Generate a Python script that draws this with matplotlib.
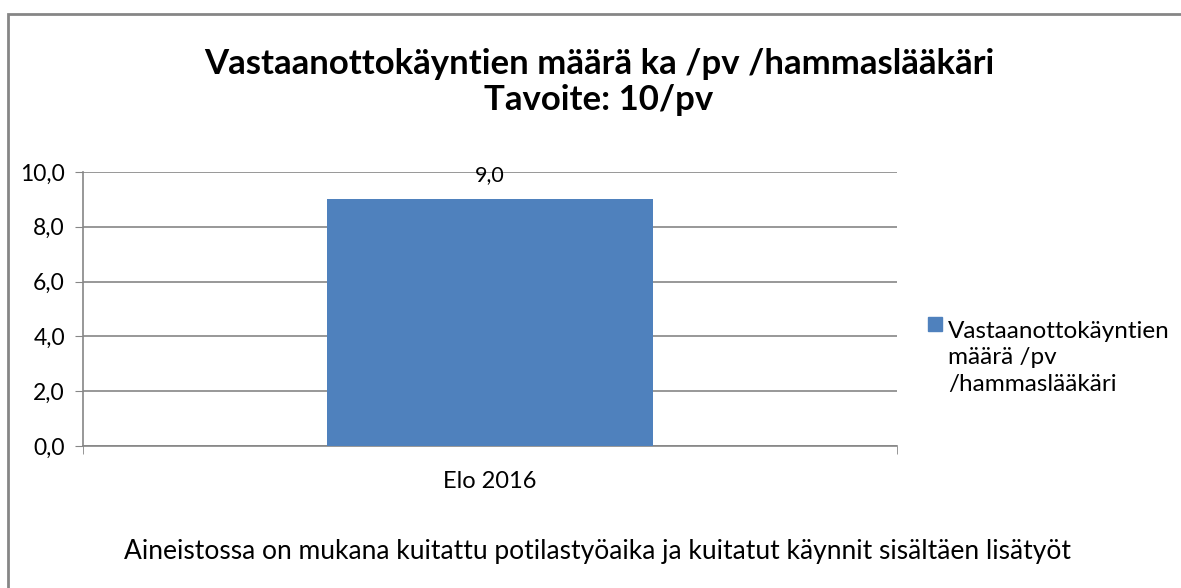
import numpy as np
import matplotlib.pyplot as plt
import matplotlib.patches as mpatch

plt.rcParams['font.family'] = ['Lato', 'DejaVu Sans']

categories = ['Elo 2016']
values = [9.0]
series_name = 'Vastaanottokäyntien\nmäärä /pv\n/hammaslääkäri'
title = 'Vastaanottokäyntien määrä ka /pv /hammaslääkäri\nTavoite: 10/pv'
footnote = 'Aineistossa on mukana kuitattu potilastyöaika ja kuitatut käynnit sisältäen lisätyöt'
yticks = [0, 2, 4, 6, 8, 10]

W, H = 1181, 588
fig = plt.figure(figsize=(W / 100, H / 100), dpi=100)

## outer chart frame (only left and top edges visible)
frame = mpatch.Rectangle((7.5 / W, -0.1), 1.2, 1 - 13.5 / H + 0.1,
                         transform=fig.transFigure, fill=False,
                         edgecolor='#868686', linewidth=2)
fig.patches.append(frame)

ax = fig.add_axes([83 / W, 1 - 446 / H, (897 - 83) / W, (446 - 172) / H])
x = np.arange(len(categories))
bars = ax.bar(x, values, width=0.4, color='#4f81bd', zorder=3)
ax.set_xlim(-0.5, len(categories) - 0.5)
ax.set_ylim(0, 10)

ax.set_yticks(yticks)
ax.set_yticklabels([f'{v:.1f}'.replace('.', ',') for v in yticks], fontsize=16.5)
ax.set_xticks(x)
ax.set_xticklabels(categories, fontsize=17)
ax.set_xticks([-0.5, len(categories) - 0.5], minor=True)
ax.tick_params(axis='x', which='major', length=0, pad=18)
ax.tick_params(axis='x', which='minor', length=6, color='#868686', direction='out')
ax.tick_params(axis='y', length=6, color='#868686', pad=7)

ax.grid(axis='y', color='#868686', linewidth=1.2, zorder=0)
for s in ['top', 'right']:
    ax.spines[s].set_visible(False)
for s in ['left', 'bottom']:
    ax.spines[s].set_color('#868686')
    ax.spines[s].set_linewidth(1.2)

for b, v in zip(bars, values):
    ax.text(b.get_x() + b.get_width() / 2, 9.9, f'{v:.1f}'.replace('.', ','),
            ha='center', va='center', fontsize=15.5, zorder=4)

fig.text(599 / W, 1 - 82 / H, title, ha='center', va='center',
         fontsize=25, fontweight='bold', linespacing=1.15)

## legend
leg_sq = mpatch.Rectangle((928 / W, 1 - 331 / H), 14 / W, 14 / H,
                          transform=fig.transFigure, color='#4f81bd')
fig.patches.append(leg_sq)
fig.text(948 / W, 1 - 358 / H, series_name, ha='left', va='center',
         fontsize=17.5, linespacing=1.33)

fig.text(598 / W, 1 - 552 / H, footnote, ha='center', va='center', fontsize=19)

fig.savefig('out.png', dpi=100)
